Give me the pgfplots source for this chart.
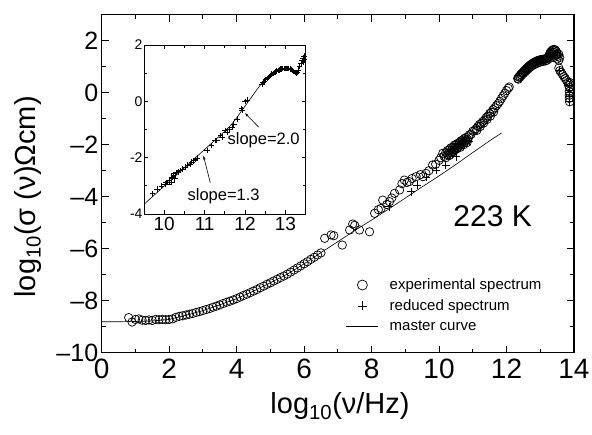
\documentclass[border=0pt]{standalone}
\usepackage{fontspec}
\setmainfont{Liberation Sans}
\usepackage{pgfplots}
\pgfplotsset{compat=1.18}
\usetikzlibrary{arrows.meta}

\begin{document}
\begin{tikzpicture}
\path[use as bounding box] (-101.7pt,-81.3pt) rectangle (490.3pt,352.7pt);

% ---- main panel ----
\begin{axis}[
  at={(0pt,0pt)}, anchor=south west,
  scale only axis, width=472.3pt, height=338pt,
  xmin=0, xmax=14, ymin=-10, ymax=3,
  xtick={0,2,...,14}, ytick={-10,-8,...,2},
  yticklabels={–10,–8,–6,–4,–2,0,2},
  minor x tick num=1, minor y tick num=1,
  tick align=inside, major tick length=7pt, minor tick length=4pt,
  axis line style={line width=1.2pt},
  tick style={black, line width=1pt},
  /pgf/number format/assume math mode=true,
  xticklabel style={font=\fontsize{28}{30}\selectfont, yshift=-3pt},
  yticklabel style={font=\fontsize{25}{28}\selectfont},
  xlabel={log\textsubscript{10}(ν/Hz)},
  ylabel={log\textsubscript{10}(σ (ν)Ωcm)},
  label style={font=\fontsize{29}{32}\selectfont},
  xlabel style={at={(axis description cs:0.5046,-0.158)}, anchor=center},
  ylabel style={at={(axis description cs:-0.157,0.461)}, anchor=center},
  legend cell align=left,
  legend image code/.code={\draw[mark repeat=2,mark phase=2,#1] plot coordinates {(0pt,0pt) (16pt,0pt) (32pt,0pt)};},
  legend style={draw=none, fill=none, inner sep=0pt, row sep=4.5pt,
    font=\fontsize{15}{17}\selectfont,
    at={(axis description cs:0.517,0.225)}, anchor=north west,
    nodes={inner sep=2pt},
    /tikz/every odd column/.append style={column sep=9pt}},
]
\addlegendimage{only marks, mark=o, mark size=5pt, black, line width=0.7pt}
\addlegendentry{experimental spectrum}
\addlegendimage{only marks, mark=+, mark size=4.5pt, black, line width=0.7pt}
\addlegendentry{reduced spectrum}
\addlegendimage{no marks, black, line width=0.6pt}
\addlegendentry{master curve}

% master curve
\addplot[black, line width=0.6pt, forget plot] coordinates {
  (0,-8.81) (0.5,-8.81) (1,-8.80) (1.5,-8.78) (2,-8.72) (2.5,-8.56) (3,-8.38)
  (3.5,-8.16) (4,-7.92) (4.5,-7.63) (5,-7.31) (5.5,-6.98) (6,-6.58) (6.5,-6.15)
  (7,-5.73) (7.5,-5.30) (8,-4.90) (8.5,-4.48) (9,-4.05) (9.5,-3.62) (10,-3.20)
  (10.5,-2.76) (11,-2.30) (11.5,-1.85) (11.85,-1.55)
};

% experimental spectrum, low frequency part
\addplot[only marks, mark=o, mark size=4.2pt, black, line width=0.7pt, forget plot] coordinates {
  (0.8,-8.65) (0.9,-8.82) (1.0,-8.72) (1.1,-8.70) (1.2,-8.75) (1.3,-8.76) (1.4,-8.74)
  (1.5,-8.76) (1.6,-8.72) (1.7,-8.73) (1.8,-8.72) (1.9,-8.73) (2.0,-8.72) (2.1,-8.70)
  (2.2,-8.64) (2.3,-8.60) (2.4,-8.58) (2.5,-8.55) (2.6,-8.52) (2.7,-8.49) (2.8,-8.45)
  (2.9,-8.42) (3.0,-8.38) (3.1,-8.34) (3.2,-8.30) (3.3,-8.25) (3.4,-8.21) (3.5,-8.16)
  (3.6,-8.11) (3.7,-8.06) (3.8,-8.02) (3.9,-7.97) (4.0,-7.92) (4.1,-7.86) (4.2,-7.80)
  (4.3,-7.75) (4.4,-7.69) (4.5,-7.63) (4.6,-7.57) (4.7,-7.50) (4.8,-7.44) (4.9,-7.37)
  (5.0,-7.31) (5.1,-7.24) (5.2,-7.18) (5.3,-7.11) (5.4,-7.05) (5.5,-6.98) (5.6,-6.90)
  (5.7,-6.82) (5.8,-6.74) (5.9,-6.66) (6.0,-6.58) (6.1,-6.50) (6.2,-6.41) (6.3,-6.33)
  (6.4,-6.24) (6.5,-6.16)
};

% experimental spectrum, scattered middle part
\addplot[only marks, mark=o, mark size=4.2pt, black, line width=0.7pt, forget plot] coordinates {
  (6.61,-5.60) (6.80,-5.47) (6.88,-5.50) (7.13,-5.86) (7.35,-5.28) (7.44,-5.05)
  (7.50,-5.10) (7.64,-5.28) (7.94,-5.35) (8.09,-4.64) (8.20,-4.50) (8.28,-4.45)
  (8.33,-4.13) (8.45,-4.30) (8.53,-4.19) (8.60,-4.05) (8.68,-3.87) (8.83,-3.74)
  (8.90,-3.50) (8.97,-3.36) (9.05,-3.45) (9.12,-3.42) (9.20,-3.30) (9.32,-3.23)
  (9.45,-3.15) (9.52,-3.23) (9.61,-3.10) (9.70,-3.00) (9.81,-2.78) (9.90,-2.75)
  (10.00,-2.60) (10.05,-2.50) (10.11,-2.33)
  (10.15,-2.45) (10.20,-2.30) (10.25,-2.38) (10.30,-2.20) (10.35,-2.30) (10.40,-2.10)
  (10.45,-2.20) (10.50,-2.00) (10.55,-2.12) (10.60,-1.92) (10.65,-2.02) (10.70,-1.82)
  (10.75,-1.92) (10.80,-1.72) (10.85,-1.80) (10.90,-1.62) (10.95,-1.60) (11.00,-1.48)
  (10.20,-2.50) (10.30,-2.42) (10.40,-2.28) (10.50,-2.18) (10.60,-2.05) (10.70,-1.95)
  (10.80,-1.85) (10.25,-2.22) (10.35,-2.12) (10.45,-2.02) (10.55,-1.95) (10.65,-1.85)
  (10.75,-1.76) (10.28,-2.32) (10.38,-2.20) (10.48,-2.10) (10.58,-2.00) (10.68,-1.90)
  (10.78,-1.80) (10.88,-1.70) (10.33,-2.38) (10.43,-2.26) (10.53,-2.15) (10.63,-2.10)
  (10.73,-2.00) (10.83,-1.92)
  (11.05,-1.45) (11.10,-1.38) (11.15,-1.30) (11.20,-1.22) (11.25,-1.18) (11.30,-1.10)
  (11.35,-1.05) (11.40,-0.95) (11.45,-0.90) (11.50,-0.80) (11.55,-0.75) (11.60,-0.65)
  (11.65,-0.58) (11.70,-0.50) (11.75,-0.42) (11.80,-0.33) (11.85,-0.22) (11.90,-0.12)
  (11.95,-0.02) (12.00,0.08) (12.05,0.17) (12.08,0.22)
  (11.12,-1.45) (11.22,-1.30) (11.32,-1.17) (11.42,-1.03) (11.52,-0.90) (11.62,-0.74)
};

% experimental spectrum, high frequency part
\addplot[only marks, mark=o, mark size=4.2pt, black, line width=0.7pt, forget plot] coordinates {
  (12.33,0.55) (12.36,0.60) (12.39,0.65) (12.42,0.70) (12.45,0.74) (12.48,0.78)
  (12.51,0.82) (12.54,0.86) (12.57,0.90) (12.60,0.94) (12.63,0.98) (12.66,1.02)
  (12.69,1.05) (12.72,1.08) (12.75,1.11) (12.78,1.14) (12.81,1.16) (12.84,1.18)
  (12.87,1.20) (12.90,1.22) (12.93,1.24) (12.96,1.25) (12.99,1.26) (13.02,1.27)
  (13.05,1.28) (13.08,1.28) (13.11,1.29) (13.14,1.30) (13.17,1.31) (13.20,1.33)
  (13.23,1.36) (13.26,1.42) (13.28,1.50) (13.30,1.56) (13.33,1.60) (13.36,1.64)
  (13.39,1.66) (13.42,1.66) (13.45,1.64) (13.48,1.58) (13.50,1.50) (13.52,1.40)
  (13.50,1.30) (13.55,1.25) (13.58,1.35) (13.55,1.48) (13.45,1.45) (13.40,1.35)
  (12.35,0.52) (12.40,0.60) (12.45,0.67) (12.50,0.74) (12.55,0.80) (12.60,0.86)
  (12.65,0.92) (12.70,0.98) (12.75,1.03) (12.80,1.07) (12.85,1.10) (12.90,1.13)
  (12.95,1.16) (13.00,1.18) (13.05,1.20) (13.10,1.21) (13.15,1.22) (13.20,1.25)
  (13.25,1.30) (13.30,1.40) (13.35,1.50) (13.40,1.55) (13.48,1.45)
  (13.55,0.95) (13.58,0.85) (13.62,0.78) (13.66,0.70) (13.70,0.62) (13.74,0.55)
  (13.78,0.47) (13.82,0.40) (13.86,0.35) (13.90,0.38) (13.84,0.28) (13.87,0.20)
  (13.86,0.05) (13.86,-0.10) (13.86,-0.22) (13.87,-0.35)
};

% reduced spectrum
\addplot[only marks, mark=+, mark size=4pt, black, line width=0.7pt, forget plot] coordinates {
  (8.53,-4.38) (9.17,-3.81) (9.35,-3.55) (9.61,-3.25) (9.91,-2.97) (10.20,-2.78)
  (10.50,-2.46) (10.90,-1.88) (13.56,0.87) (13.86,0.30) (13.86,0.10) (13.86,-0.15)
  (13.86,-0.35)
};

\node[font=\fontsize{30}{32}\selectfont, anchor=base] at (axis cs:11.59,-5.15) {223 K};
\end{axis}

% ---- inset ----
\begin{axis}[
  at={(42.3pt,138.7pt)}, anchor=south west,
  scale only axis, width=161.7pt, height=169pt,
  xmin=9.5, xmax=13.5, ymin=-4, ymax=2,
  xtick={10,11,12,13}, ytick={-4,-2,0,2},
  minor x tick num=1, minor y tick num=1,
  tick align=inside, major tick length=4pt, minor tick length=2.5pt,
  axis line style={line width=0.8pt},
  tick style={black, line width=0.7pt},
  /pgf/number format/assume math mode=true,
  xticklabel style={font=\fontsize{19}{21}\selectfont},
  yticklabel style={font=\fontsize{14}{16}\selectfont, xshift=2pt},
  axis background/.style={fill=white},
]
\addplot[black, line width=0.6pt] coordinates {
  (9.45,-3.72) (10,-3.01) (10.5,-2.36) (11,-1.71) (11.5,-1.06) (11.6,-0.92)
  (11.7,-0.76) (11.8,-0.57) (11.9,-0.37) (12,-0.17) (12.1,0.03) (12.2,0.23)
  (12.3,0.43) (12.45,0.72)
};
\addplot[only marks, mark=+, mark size=2.8pt, black, line width=0.55pt] coordinates {
  (9.71,-3.27) (9.82,-3.12) (9.93,-3.00) (10.02,-2.94) (10.05,-2.88) (10.13,-2.82)
  (10.19,-2.70) (10.23,-2.62) (10.26,-2.72) (10.30,-2.52) (10.35,-2.50) (10.39,-2.46)
  (10.45,-2.40) (10.52,-2.34) (10.58,-2.27) (10.64,-2.22) (10.68,-2.15) (10.73,-2.11)
  (10.77,-2.06) (10.81,-2.02) (11.06,-1.75) (11.17,-1.57) (11.26,-1.39) (11.30,-1.39)
  (11.39,-1.21) (11.43,-1.27) (11.51,-1.04) (11.55,-1.10) (11.60,-1.00) (11.68,-0.91)
  (11.72,-0.80) (11.80,-0.62) (11.91,-0.26) (11.93,-0.30) (12.00,0.00) (12.05,0.04)
  (12.42,0.62) (12.45,0.68) (12.48,0.72) (12.51,0.77) (12.54,0.81) (12.57,0.85)
  (12.60,0.88) (12.63,0.92) (12.66,0.96) (12.69,0.99) (12.72,1.02) (12.75,1.05)
  (12.78,1.07) (12.81,1.10) (12.84,1.12) (12.87,1.14) (12.90,1.15) (12.93,1.16)
  (12.96,1.17) (12.99,1.17) (13.02,1.17) (13.05,1.17) (13.08,1.16) (13.11,1.15)
  (13.14,1.13) (13.17,1.10) (13.20,1.06) (13.23,1.02) (13.26,0.99) (13.29,1.02)
  (13.32,1.12) (13.35,1.24) (13.38,1.34) (13.41,1.44) (13.44,1.54) (13.46,1.60)
  (13.47,1.50) (13.45,1.40)
};
\addplot[only marks, mark=square, mark size=2.2pt, black, line width=0.5pt] coordinates {
  (10.13,-2.88) (10.19,-2.80) (10.23,-2.64)
};
\node[font=\fontsize{16.5}{18}\selectfont] at (axis cs:12.46,-1.39) {slope=2.0};
\draw[black, line width=0.6pt, -{Stealth[length=4pt,width=2.5pt]}]
  (axis cs:12.34,-0.92) -- (axis cs:12.0,-0.42);
\node[font=\fontsize{16.5}{18}\selectfont] at (axis cs:11.47,-3.36) {slope=1.3};
\draw[black, line width=0.6pt, -{Stealth[length=4pt,width=2.5pt]}]
  (axis cs:11.14,-2.89) -- (axis cs:10.97,-1.93);
\end{axis}
\end{tikzpicture}
\end{document}
